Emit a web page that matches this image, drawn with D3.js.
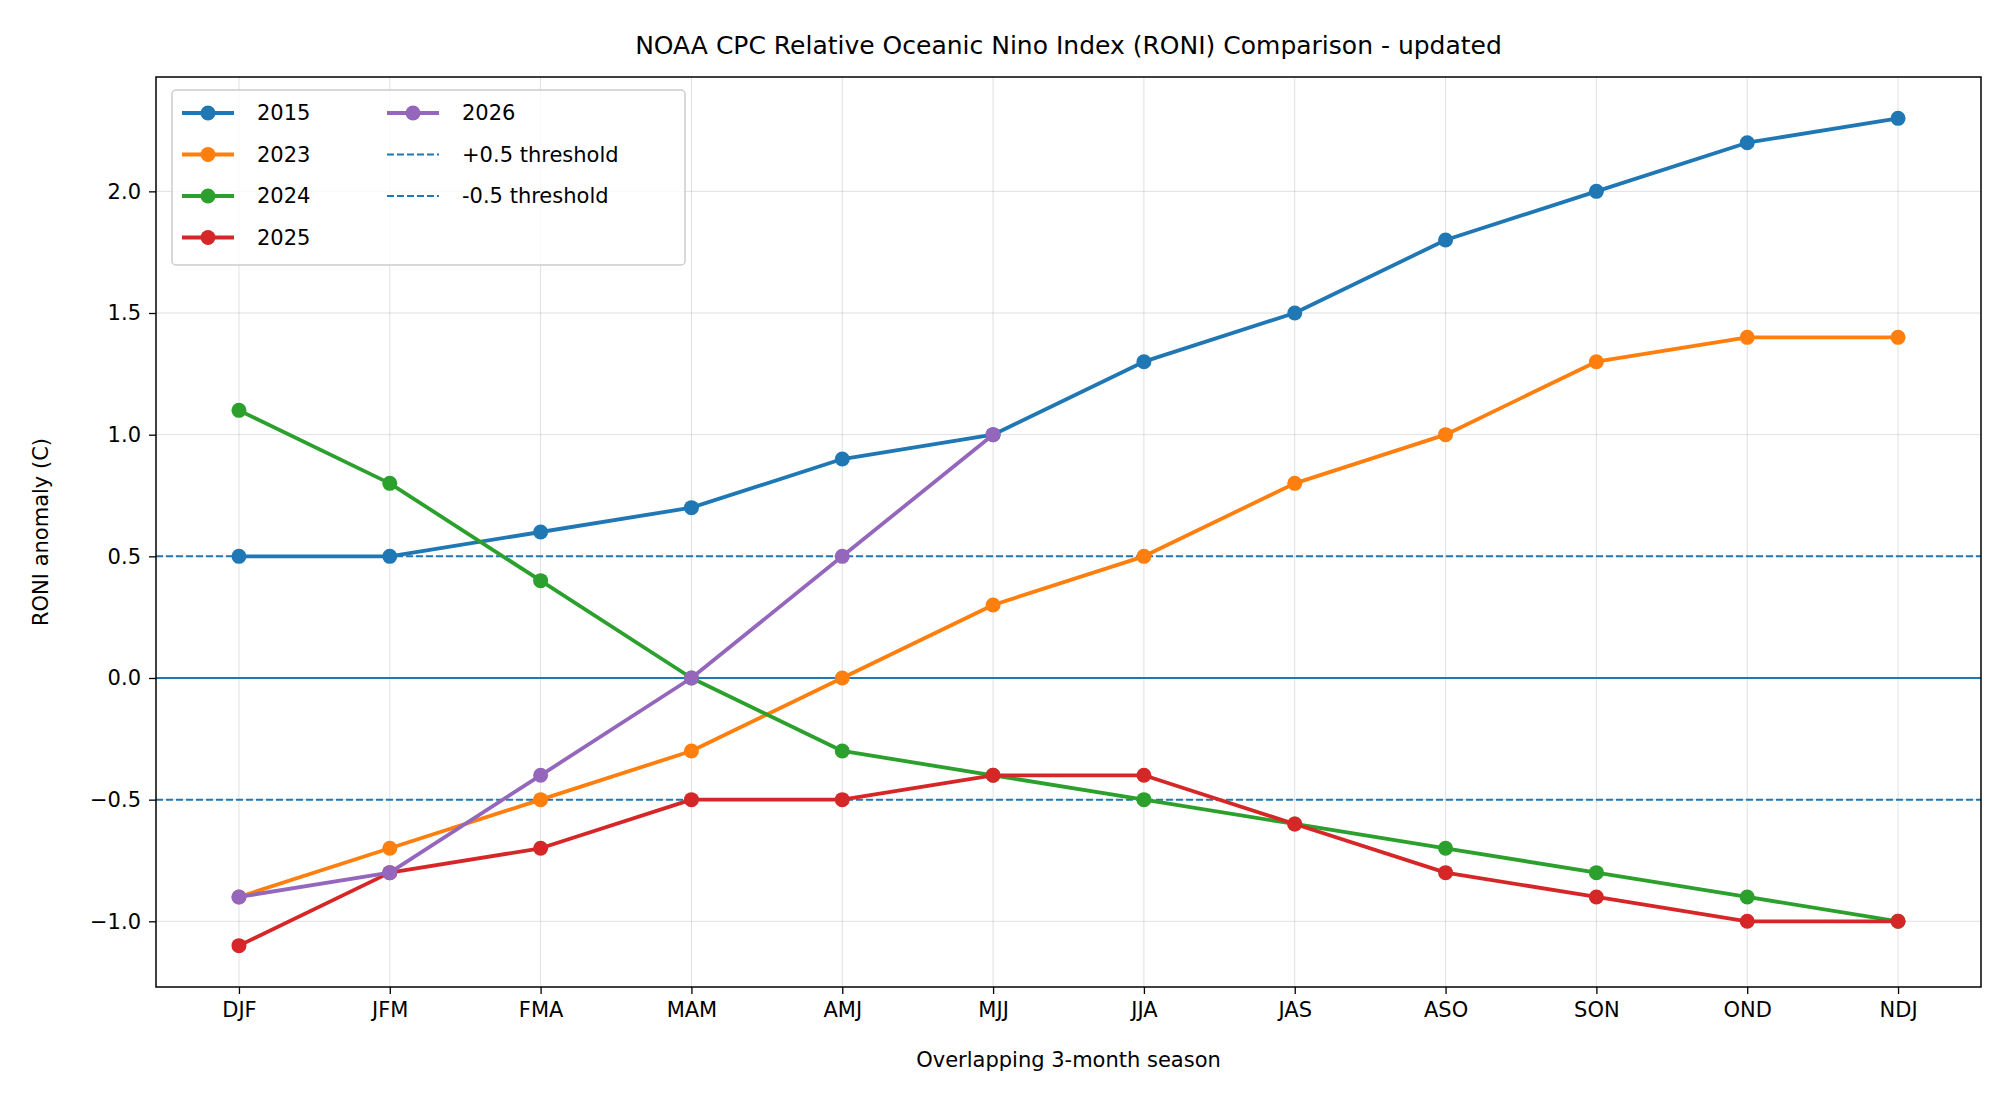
<!DOCTYPE html>
<html>
<head>
<meta charset="utf-8">
<script src="https://cdn.jsdelivr.net/npm/d3@7"></script>
<style>
  body { margin: 0; background: #fff; }
  text { font-family: "DejaVu Sans", sans-serif; }
</style>
</head>
<body>
<svg id="chart" width="2000" height="1100"></svg>
<script>
var seasons = ["DJF","JFM","FMA","MAM","AMJ","MJJ","JJA","JAS","ASO","SON","OND","NDJ"];
var years = ["2015","2023","2024","2025","2026"];
var colors = ["#1f77b4","#ff7f0e","#2ca02c","#d62728","#9467bd"];
var v2015 = [0.5,0.5,0.6,0.7,0.9,1.0,1.3,1.5,1.8,2.0,2.2,2.3];
var v2023 = [-0.9,-0.7,-0.5,-0.3,0.0,0.3,0.5,0.8,1.0,1.3,1.4,1.4];
var v2024 = [1.1,0.8,0.4,0.0,-0.3,-0.4,-0.5,-0.6,-0.7,-0.8,-0.9,-1.0];
var v2025 = [-1.1,-0.8,-0.7,-0.5,-0.5,-0.4,-0.4,-0.6,-0.8,-0.9,-1.0,-1.0];
var v2026 = [-0.9,-0.8,-0.4,0.0,0.5,1.0];
var yTicks = [-1.0,-0.5,0.0,0.5,1.0,1.5,2.0];
var thresholds = [0.5,-0.5];

var series = [v2015, v2023, v2024, v2025, v2026];
var svg = d3.select("#chart");
var m = {left:156, right:1981, top:77, bottom:987};

var x = d3.scaleLinear().domain([-0.55, 11.55]).range([m.left, m.right]);
var y = d3.scaleLinear().domain([-1.27, 2.47]).range([m.bottom, m.top]);

// grid
var g = svg.append("g");
g.selectAll(".vg").data(seasons).enter().append("line")
  .attr("x1", function(d,i){return x(i);}).attr("x2", function(d,i){return x(i);})
  .attr("y1", m.top).attr("y2", m.bottom)
  .attr("stroke","#000").attr("stroke-opacity",0.12).attr("stroke-width",1);
g.selectAll(".hg").data(yTicks).enter().append("line")
  .attr("y1", function(d){return y(d);}).attr("y2", function(d){return y(d);})
  .attr("x1", m.left).attr("x2", m.right)
  .attr("stroke","#000").attr("stroke-opacity",0.12).attr("stroke-width",1);

// zero line and thresholds
svg.append("line").attr("x1",m.left).attr("x2",m.right).attr("y1",y(0)).attr("y2",y(0))
  .attr("stroke","#1f77b4").attr("stroke-width",2);
svg.selectAll(".th").data(thresholds).enter().append("line")
  .attr("x1",m.left).attr("x2",m.right)
  .attr("y1",function(d){return y(d);}).attr("y2",function(d){return y(d);})
  .attr("stroke","#1f77b4").attr("stroke-width",2).attr("stroke-dasharray","7,3");

// series
var line = d3.line().x(function(d,i){return x(i);}).y(function(d){return y(d);});
series.forEach(function(s, k) {
  svg.append("path").datum(s).attr("d", line)
    .attr("fill","none").attr("stroke",colors[k]).attr("stroke-width",3.8)
    .attr("stroke-linejoin","round");
  svg.selectAll(".pt"+k).data(s).enter().append("circle")
    .attr("cx",function(d,i){return x(i);}).attr("cy",function(d){return y(d);})
    .attr("r",7.5).attr("fill",colors[k]);
});

// frame
svg.append("rect").attr("x",m.left).attr("y",m.top)
  .attr("width",m.right-m.left).attr("height",m.bottom-m.top)
  .attr("fill","none").attr("stroke","#000").attr("stroke-width",1.5);

// axes
var xa = svg.append("g").attr("transform","translate(0,"+m.bottom+")")
  .call(d3.axisBottom(x).tickValues(d3.range(12)).tickFormat(function(i){return seasons[i];}).tickSize(7).tickPadding(8));
var ya = svg.append("g").attr("transform","translate("+m.left+",0)")
  .call(d3.axisLeft(y).tickValues(yTicks).tickFormat(function(d){return d3.format(".1f")(d).replace("-","\u2212");}).tickSize(7).tickPadding(8));
[xa, ya].forEach(function(a){
  a.select(".domain").remove();
  a.selectAll("text").attr("font-size",21).attr("fill","#000");
  a.selectAll("line").attr("stroke-width",1.3);
});

svg.append("text").attr("x",(m.left+m.right)/2).attr("y",54).attr("text-anchor","middle")
  .attr("font-size",25).text("NOAA CPC Relative Oceanic Nino Index (RONI) Comparison - updated");
svg.append("text").attr("x",(m.left+m.right)/2).attr("y",1067).attr("text-anchor","middle")
  .attr("font-size",21).text("Overlapping 3-month season");
svg.append("text").attr("transform","translate(48,"+((m.top+m.bottom)/2)+") rotate(-90)")
  .attr("text-anchor","middle").attr("font-size",21).text("RONI anomaly (C)");

// legend
var leg = svg.append("g").attr("transform","translate(172,90)");
leg.append("rect").attr("width",513).attr("height",175).attr("rx",4)
  .attr("fill","#fff").attr("fill-opacity",0.8).attr("stroke","#ccc").attr("stroke-width",1.5);
var items = years.map(function(yr,k){return {label:yr, color:colors[k], dash:false};});
items.push({label:"+0.5 threshold", color:"#1f77b4", dash:true});
items.push({label:"-0.5 threshold", color:"#1f77b4", dash:true});
items.forEach(function(it, k) {
  var col = k < 4 ? 0 : 1, row = k < 4 ? k : k - 4;
  var ix = 10 + col * 205, iy = 23 + row * 41.5;
  leg.append("line").attr("x1",ix).attr("x2",ix+52).attr("y1",iy).attr("y2",iy)
    .attr("stroke",it.color).attr("stroke-width",it.dash ? 2 : 3.8)
    .attr("stroke-dasharray",it.dash ? "7,3" : null);
  if (!it.dash) leg.append("circle").attr("cx",ix+26).attr("cy",iy).attr("r",7.5).attr("fill",it.color);
  leg.append("text").attr("x",ix+75).attr("y",iy+7).attr("font-size",21).text(it.label);
});
</script>
</body>
</html>
